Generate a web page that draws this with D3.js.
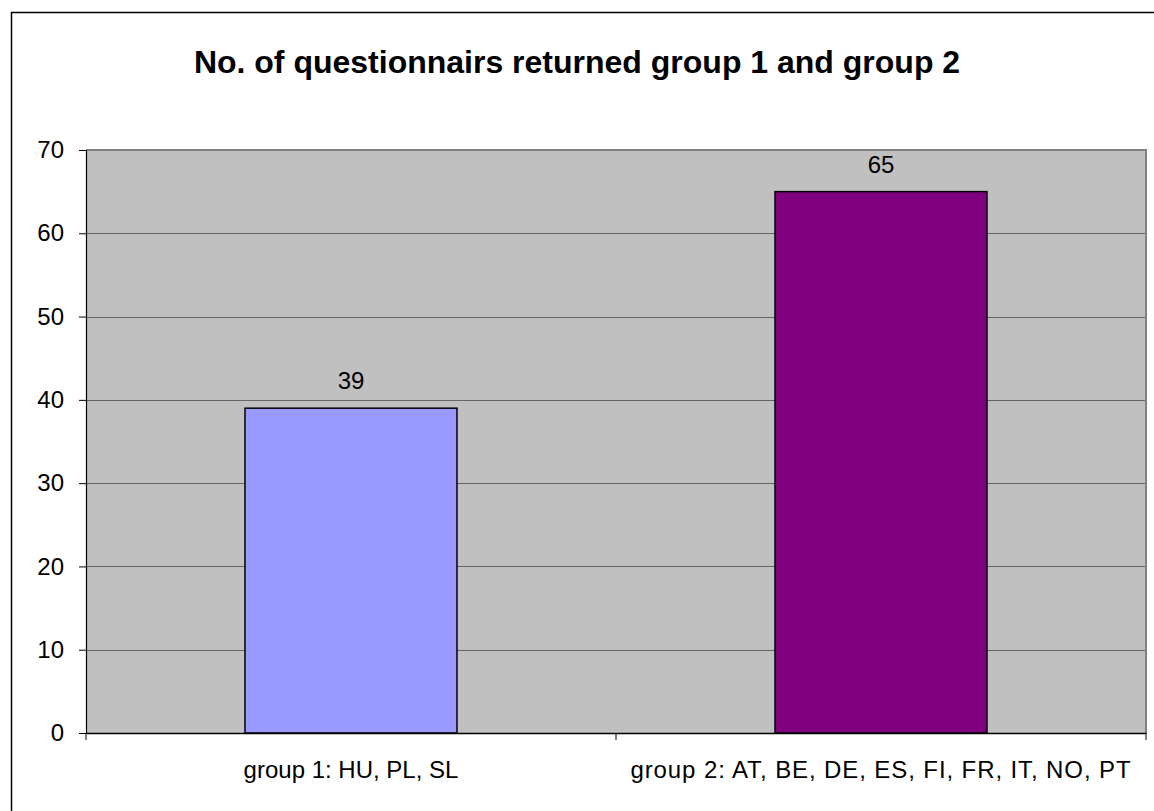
<!DOCTYPE html>
<html><head><meta charset="utf-8">
<script src="https://cdn.jsdelivr.net/npm/d3@7"></script>
<style>body{margin:0;background:#fff}svg{display:block}text{font-family:"Liberation Sans",Arial,sans-serif}</style>
</head><body>
<svg id="c" width="1154" height="811"></svg>
<script>
const categories = ["group 1: HU, PL, SL", "group 2: AT, BE, DE, ES, FI, FR, IT, NO, PT"];
const values = [39, 65];
const colors = ["#9999FF", "#800080"];
const yTicks = [0, 10, 20, 30, 40, 50, 60, 70];
const title = "No. of questionnairs returned group 1 and group 2";

const svg = d3.select("#c");
const L = 86, R = 1146, T = 150, B = 733;
const FONT = '"Liberation Sans",Arial,sans-serif';

// outer chart border
svg.append("path").attr("d", "M11.5,811 V12.5 H1154").attr("fill", "none").attr("stroke", "#000").attr("stroke-width", 1.5);

svg.append("text").attr("x", 577).attr("y", 73).attr("text-anchor", "middle")
  .attr("font-size", 32).attr("font-weight", "bold").text(title);

const x = d3.scaleBand().domain(categories).range([L, R]);
const y = d3.scaleLinear().domain([0, 70]).range([B, T]);

svg.append("rect").attr("x", L).attr("y", T).attr("width", R - L).attr("height", B - T).attr("fill", "#C0C0C0");

// gridlines
svg.append("g").selectAll("line").data(yTicks.filter(d => d > 0)).join("line")
  .attr("x1", L).attr("x2", R).attr("y1", d => Math.round(y(d)) + 0.5).attr("y2", d => Math.round(y(d)) + 0.5)
  .attr("stroke", "#666").attr("stroke-width", 1);
// plot border top/right
svg.append("path").attr("d", `M${L},${T} H${R} V${B}`).attr("fill", "none").attr("stroke", "#808080").attr("stroke-width", 2);

// bars
const bw = x.bandwidth() / 2.5;
svg.append("g").selectAll("rect").data(values).join("rect")
  .attr("x", (d, i) => x(categories[i]) + (x.bandwidth() - bw) / 2)
  .attr("y", d => y(d)).attr("width", bw).attr("height", d => B - y(d))
  .attr("fill", (d, i) => colors[i]).attr("stroke", "#000").attr("stroke-width", 1.5);

// value labels
svg.append("g").selectAll("text").data(values).join("text")
  .attr("x", (d, i) => x(categories[i]) + x.bandwidth() / 2)
  .attr("y", d => y(d) - 19).attr("text-anchor", "middle").attr("font-size", 24).text(d => d);

// y axis
const ya = svg.append("g").attr("transform", `translate(${L},0)`)
  .call(d3.axisLeft(y).tickValues(yTicks).tickSize(7).tickPadding(15));
ya.select(".domain").attr("stroke", "#000").attr("stroke-width", 1.2);
ya.selectAll("text").attr("font-size", 24).attr("fill", "#000").attr("font-family", FONT);
ya.selectAll(".tick line").attr("stroke", "#000");

// x axis
const xa = svg.append("g").attr("transform", `translate(0,${B})`)
  .call(d3.axisBottom(x).tickSize(0).tickPadding(28));
xa.select(".domain").attr("stroke", "#000").attr("stroke-width", 1.5);
xa.selectAll("text").attr("font-size", 24).attr("fill", "#000").attr("font-family", FONT)
  .attr("letter-spacing", (d, i) => i === 1 ? "0.9px" : null);
// category separator ticks
xa.append("g").selectAll("line").data([L, L + x.bandwidth(), R]).join("line")
  .attr("x1", d => d).attr("x2", d => d).attr("y1", 0).attr("y2", 7).attr("stroke", "#000");
</script>
</body></html>
